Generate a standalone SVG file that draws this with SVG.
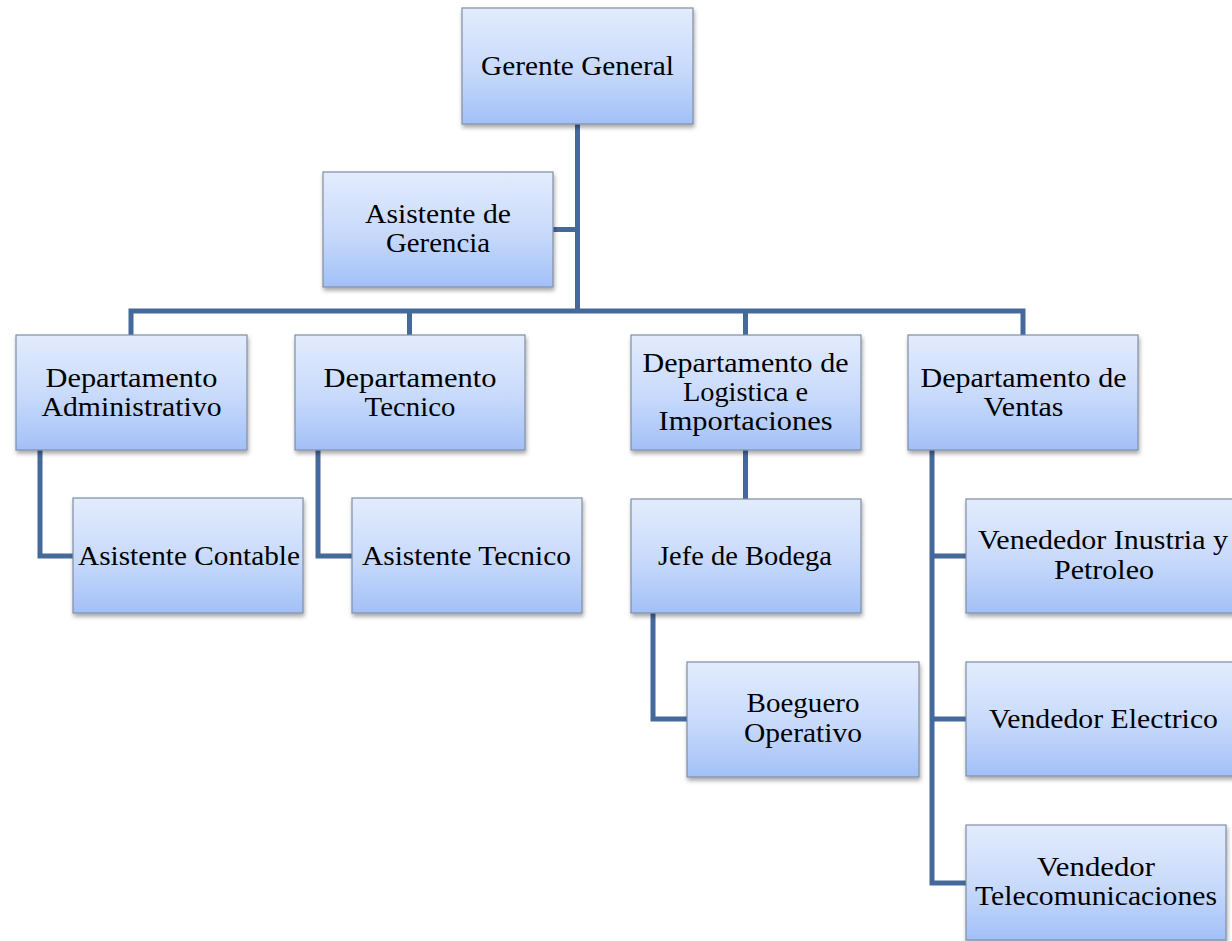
<svg xmlns="http://www.w3.org/2000/svg" width="1232" height="941" viewBox="0 0 1232 941">
<style>
.box{fill:url(#g);stroke:#7f8ea6;stroke-width:1.2;filter:url(#sh)}
.t{font-family:"Liberation Serif","Times New Roman",serif;font-size:27px;fill:#000;text-anchor:middle}
.c{fill:none;stroke:#44699b;stroke-width:5;stroke-linejoin:miter;stroke-linecap:butt}
</style>
<defs>
<linearGradient id="g" x1="0" y1="0" x2="0" y2="1">
<stop offset="0" stop-color="#e3ecfd"/>
<stop offset="0.55" stop-color="#c7d9fb"/>
<stop offset="1" stop-color="#a2c0f7"/>
</linearGradient>
<filter id="sh" x="-10%" y="-10%" width="125%" height="135%">
<feDropShadow dx="1" dy="3" stdDeviation="2" flood-color="#000" flood-opacity="0.35"/>
</filter>
</defs>
<rect width="1232" height="941" fill="#fff"/>
<g id="connectors">
<path class="c" d="M577.5,124 V311"/>
<path class="c" d="M553,229.5 H577.5"/>
<path class="c" d="M131,335 V311 H1023 V335"/>
<path class="c" d="M409.5,311 V335"/>
<path class="c" d="M745.5,311 V335"/>
<path class="c" d="M40,450 V556 H73"/>
<path class="c" d="M318,450 V556 H352"/>
<path class="c" d="M745.5,450 V499"/>
<path class="c" d="M653,613 V719 H687"/>
<path class="c" d="M932,450 V883 H967"/>
<path class="c" d="M932,556 H966"/>
<path class="c" d="M932,719 H966"/>
</g>
<g id="gerente">
<rect class="box" x="462" y="8" width="231" height="116"/>
<text class="t" x="577.5" y="75" textLength="193" lengthAdjust="spacingAndGlyphs">Gerente General</text>
</g>
<g id="asistente-gerencia">
<rect class="box" x="323" y="172" width="230" height="115"/>
<text class="t" x="438" y="223" textLength="146" lengthAdjust="spacingAndGlyphs">Asistente de</text>
<text class="t" x="438" y="252" textLength="104" lengthAdjust="spacingAndGlyphs">Gerencia</text>
</g>
<g id="dep-admin">
<rect class="box" x="16" y="335" width="231" height="115"/>
<text class="t" x="131.5" y="387" textLength="172" lengthAdjust="spacingAndGlyphs">Departamento</text>
<text class="t" x="131.5" y="416" textLength="180" lengthAdjust="spacingAndGlyphs">Administrativo</text>
</g>
<g id="dep-tecnico">
<rect class="box" x="295" y="335" width="230" height="115"/>
<text class="t" x="410" y="387" textLength="173" lengthAdjust="spacingAndGlyphs">Departamento</text>
<text class="t" x="410" y="416" textLength="91" lengthAdjust="spacingAndGlyphs">Tecnico</text>
</g>
<g id="dep-logistica">
<rect class="box" x="631" y="335" width="230" height="115"/>
<text class="t" x="745.5" y="372" textLength="206" lengthAdjust="spacingAndGlyphs">Departamento de</text>
<text class="t" x="745.5" y="401" textLength="125" lengthAdjust="spacingAndGlyphs">Logistica e</text>
<text class="t" x="745.5" y="430" textLength="174" lengthAdjust="spacingAndGlyphs">Importaciones</text>
</g>
<g id="dep-ventas">
<rect class="box" x="908" y="335" width="230" height="115"/>
<text class="t" x="1023.5" y="387" textLength="206" lengthAdjust="spacingAndGlyphs">Departamento de</text>
<text class="t" x="1023.5" y="416" textLength="80" lengthAdjust="spacingAndGlyphs">Ventas</text>
</g>
<g id="asistente-contable">
<rect class="box" x="73" y="498" width="230" height="115"/>
<text class="t" x="189" y="565" textLength="222" lengthAdjust="spacingAndGlyphs">Asistente Contable</text>
</g>
<g id="asistente-tecnico">
<rect class="box" x="352" y="498" width="230" height="115"/>
<text class="t" x="466.5" y="565" textLength="209" lengthAdjust="spacingAndGlyphs">Asistente Tecnico</text>
</g>
<g id="jefe-bodega">
<rect class="box" x="631" y="499" width="230" height="114"/>
<text class="t" x="745" y="565" textLength="174" lengthAdjust="spacingAndGlyphs">Jefe de Bodega</text>
</g>
<g id="boeguero">
<rect class="box" x="687" y="662" width="232" height="115"/>
<text class="t" x="803" y="712" textLength="113" lengthAdjust="spacingAndGlyphs">Boeguero</text>
<text class="t" x="803" y="742" textLength="118" lengthAdjust="spacingAndGlyphs">Operativo</text>
</g>
<g id="vendedor-industria">
<rect class="box" x="966" y="499" width="274" height="114"/>
<text class="t" x="1103" y="549" textLength="250" lengthAdjust="spacingAndGlyphs">Venededor Inustria y</text>
<text class="t" x="1104" y="579" textLength="100" lengthAdjust="spacingAndGlyphs">Petroleo</text>
</g>
<g id="vendedor-electrico">
<rect class="box" x="966" y="662" width="274" height="114"/>
<text class="t" x="1103.5" y="728" textLength="229" lengthAdjust="spacingAndGlyphs">Vendedor Electrico</text>
</g>
<g id="vendedor-telecom">
<rect class="box" x="966" y="825" width="260" height="115"/>
<text class="t" x="1096" y="876" textLength="118" lengthAdjust="spacingAndGlyphs">Vendedor</text>
<text class="t" x="1096" y="905" textLength="242" lengthAdjust="spacingAndGlyphs">Telecomunicaciones</text>
</g>
</svg>
